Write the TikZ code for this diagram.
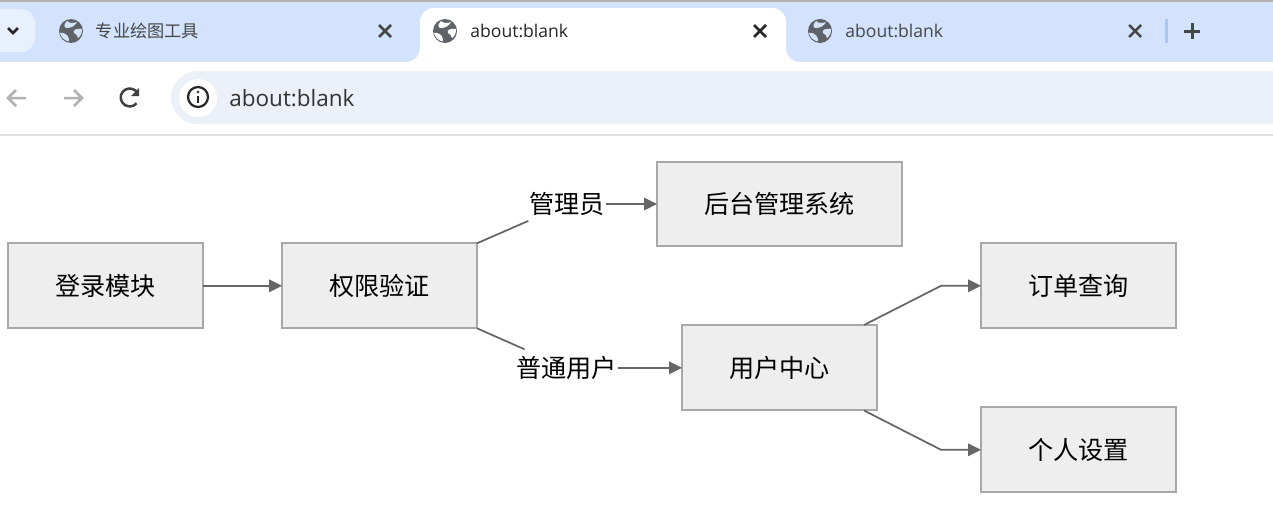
\documentclass[tikz,border=0pt]{standalone}
\usepackage{fontspec}
\setmainfont{Open Sans}
\newfontfamily\cjk{Noto Sans CJK SC}
\usetikzlibrary{arrows.meta,positioning}
\definecolor{tabblue}{HTML}{D3E3FD}
\definecolor{omnibar}{HTML}{ECF0F9}
\definecolor{chevbtn}{HTML}{E8F0FE}
\definecolor{icongray}{HTML}{5F6368}
\definecolor{boxfill}{HTML}{EEEEEE}
\definecolor{boxline}{HTML}{A8A8A8}
\definecolor{linkgray}{HTML}{666666}
\definecolor{tabtext}{HTML}{444746}
\definecolor{tabsep}{HTML}{A8C7FA}
\tikzset{
  modbox/.style={draw=boxline, fill=boxfill, line width=0.04cm, minimum width=3.9cm,
    minimum height=1.7cm, outer sep=0pt, font=\cjk\fontsize{14.3}{16}\selectfont},
  branchlabel/.style={fill=white, inner xsep=0.02cm, inner ysep=0pt, minimum height=0.68cm,
    outer sep=0pt, font=\cjk\fontsize{14.3}{16}\selectfont},
  link/.style={draw=linkgray, line width=0.035cm},
  linkarrow/.style={link, -{Triangle[length=0.26cm,width=0.25cm]}},
  tabtitle/.style={anchor=west, inner sep=0pt, font=\fontsize{10}{12}\selectfont},
  closex/.style={line width=0.05cm},
  pics/globe/.style={code={
    \fill[icongray] (0,0) circle (12);
    \fill[#1] (-4,-10) .. controls (-1,-7) and (3,-8) .. (6,-9) .. controls (4,-5) and (0,-3) .. (-4,-3) .. controls (-7,-3) and (-8,-6) .. (-4,-10);
    \fill[#1] (11,-2) .. controls (6,-3) and (1,-1) .. (3,2) .. controls (5,4) and (7,4) .. (7,7) .. controls (10,5) and (11,2) .. (11,-2);
    \fill[#1] (-11,2) .. controls (-7,1) and (-3,4) .. (-2,8) .. controls (-1,10) and (-3,11) .. (-4,10) .. controls (-8,8) and (-10,6) .. (-11,2);
  }},
  pics/xmark/.style={code={
    \draw[closex, #1] (-6,-6) -- (6,6);
    \draw[closex, #1] (-6,6) -- (6,-6);
  }}
}

\begin{document}
\begin{tikzpicture}[x=0.02cm, y=-0.02cm]
  \useasboundingbox (0,0) rectangle (1273,507);
  \fill[white] (0,0) rectangle (1273,507);

  % Tab strip
  \fill[tabblue] (0,0) rectangle (1273,62);
  \fill[gray!60] (0,0) rectangle (1273,1.5);
  \fill[chevbtn] (-10,9) -- (21,9) .. controls (29,9) and (35,15) .. (35,23) -- (35,38) .. controls (35,46) and (29,52) .. (21,52) -- (-10,52) -- cycle;
  \draw[black!85, line width=0.05cm] (8,28) -- (13,33) -- (18,28);

  % Active tab
  \fill[white] (406,62) .. controls (414,62) and (420,56) .. (420,48) -- (420,22)
    .. controls (420,14) and (426,8) .. (434,8) -- (772,8)
    .. controls (780,8) and (786,14) .. (786,22) -- (786,48)
    .. controls (786,56) and (792,62) .. (800,62) -- cycle;

  % Tab contents
  \pic at (71,31) {globe=tabblue};
  \node[tabtitle, text=tabtext] (tabtool) at (95.5,31) {\cjk\fontsize{9.8}{12}\selectfont 专业绘图工具};
  \pic at (385,31) {xmark=tabtext};

  \pic at (445,31) {globe=white};
  \node[tabtitle, text=black!85] (tabblank) at (470,31) {about:blank};
  \pic at (760,31) {xmark=black!85};

  \pic at (820,31) {globe=tabblue};
  \node[tabtitle, text=tabtext] (tabother) at (845,31) {about:blank};
  \pic at (1135,31) {xmark=tabtext};

  \fill[tabsep] (1165,19) rectangle (1168,43);
  \draw[tabtext, line width=0.06cm] (1184,31) -- (1200,31) (1192,23) -- (1192,39);

  % Toolbar
  \fill[omnibar] (1273,71) -- (198,71) .. controls (183,71) and (171,83) .. (171,97.5)
    .. controls (171,112) and (183,124) .. (198,124) -- (1273,124) -- cycle;
  \fill[black!12] (0,134) rectangle (1273,136);

  \draw[gray!60, line width=0.05cm] (26,98) -- (8,98) (16,90) -- (8,98) -- (16,106);
  \draw[gray!60, line width=0.05cm] (64,98) -- (82,98) (74,90) -- (82,98) -- (74,106);
  \draw[black!75, line width=0.05cm] (137.5,93) arc[start angle=-30, end angle=-320, radius=9];
  \fill[black!75] (139,88) -- (139,96) -- (131,96) -- cycle;

  \fill[white] (198,98) circle (19);
  \draw[black!85, line width=0.045cm] (198,97) circle (10);
  \draw[black!85, line width=0.05cm] (198,96) -- (198,103);
  \fill[black!85] (198,92) circle (1.4);

  \node[anchor=west, inner sep=0pt, text=black!80, font=\fontsize{12.8}{16}\selectfont] (addr) at (229,98) {about:blank};

  % Modules
  \node[modbox] (login) at (105.5,285.8) {登录模块};
  \node[modbox] (auth) at (379.5,285.8) {权限验证};
  \node[modbox, minimum width=4.9cm] (admin) at (779.5,204) {后台管理系统};
  \node[modbox] (user) at (779.5,367.8) {用户中心};
  \node[modbox] (order) at (1078.5,285.8) {订单查询};
  \node[modbox] (setting) at (1078.5,449.8) {个人设置};

  % Branch labels
  \node[branchlabel] (adminlabel) at (567,204) {管理员};
  \node[branchlabel, minimum height=0.74cm] (userlabel) at (566.5,367.8) {普通用户};

  % Bends
  \coordinate (usertop) at (864,325);
  \coordinate (userbottom) at (864,410.5);
  \coordinate (orderbend) at (941,285.8);
  \coordinate (settingbend) at (941,449.8);

  % Links
  \draw[linkarrow] (login) -- (auth);
  \draw[link] (auth.north east) -- (adminlabel);
  \draw[linkarrow] (adminlabel) -- (admin);
  \draw[link] (auth.south east) -- (userlabel);
  \draw[linkarrow] (userlabel) -- (user);
  \draw[linkarrow] (usertop) -- (orderbend) -- (order);
  \draw[linkarrow] (userbottom) -- (settingbend) -- (setting);
\end{tikzpicture}
\end{document}
